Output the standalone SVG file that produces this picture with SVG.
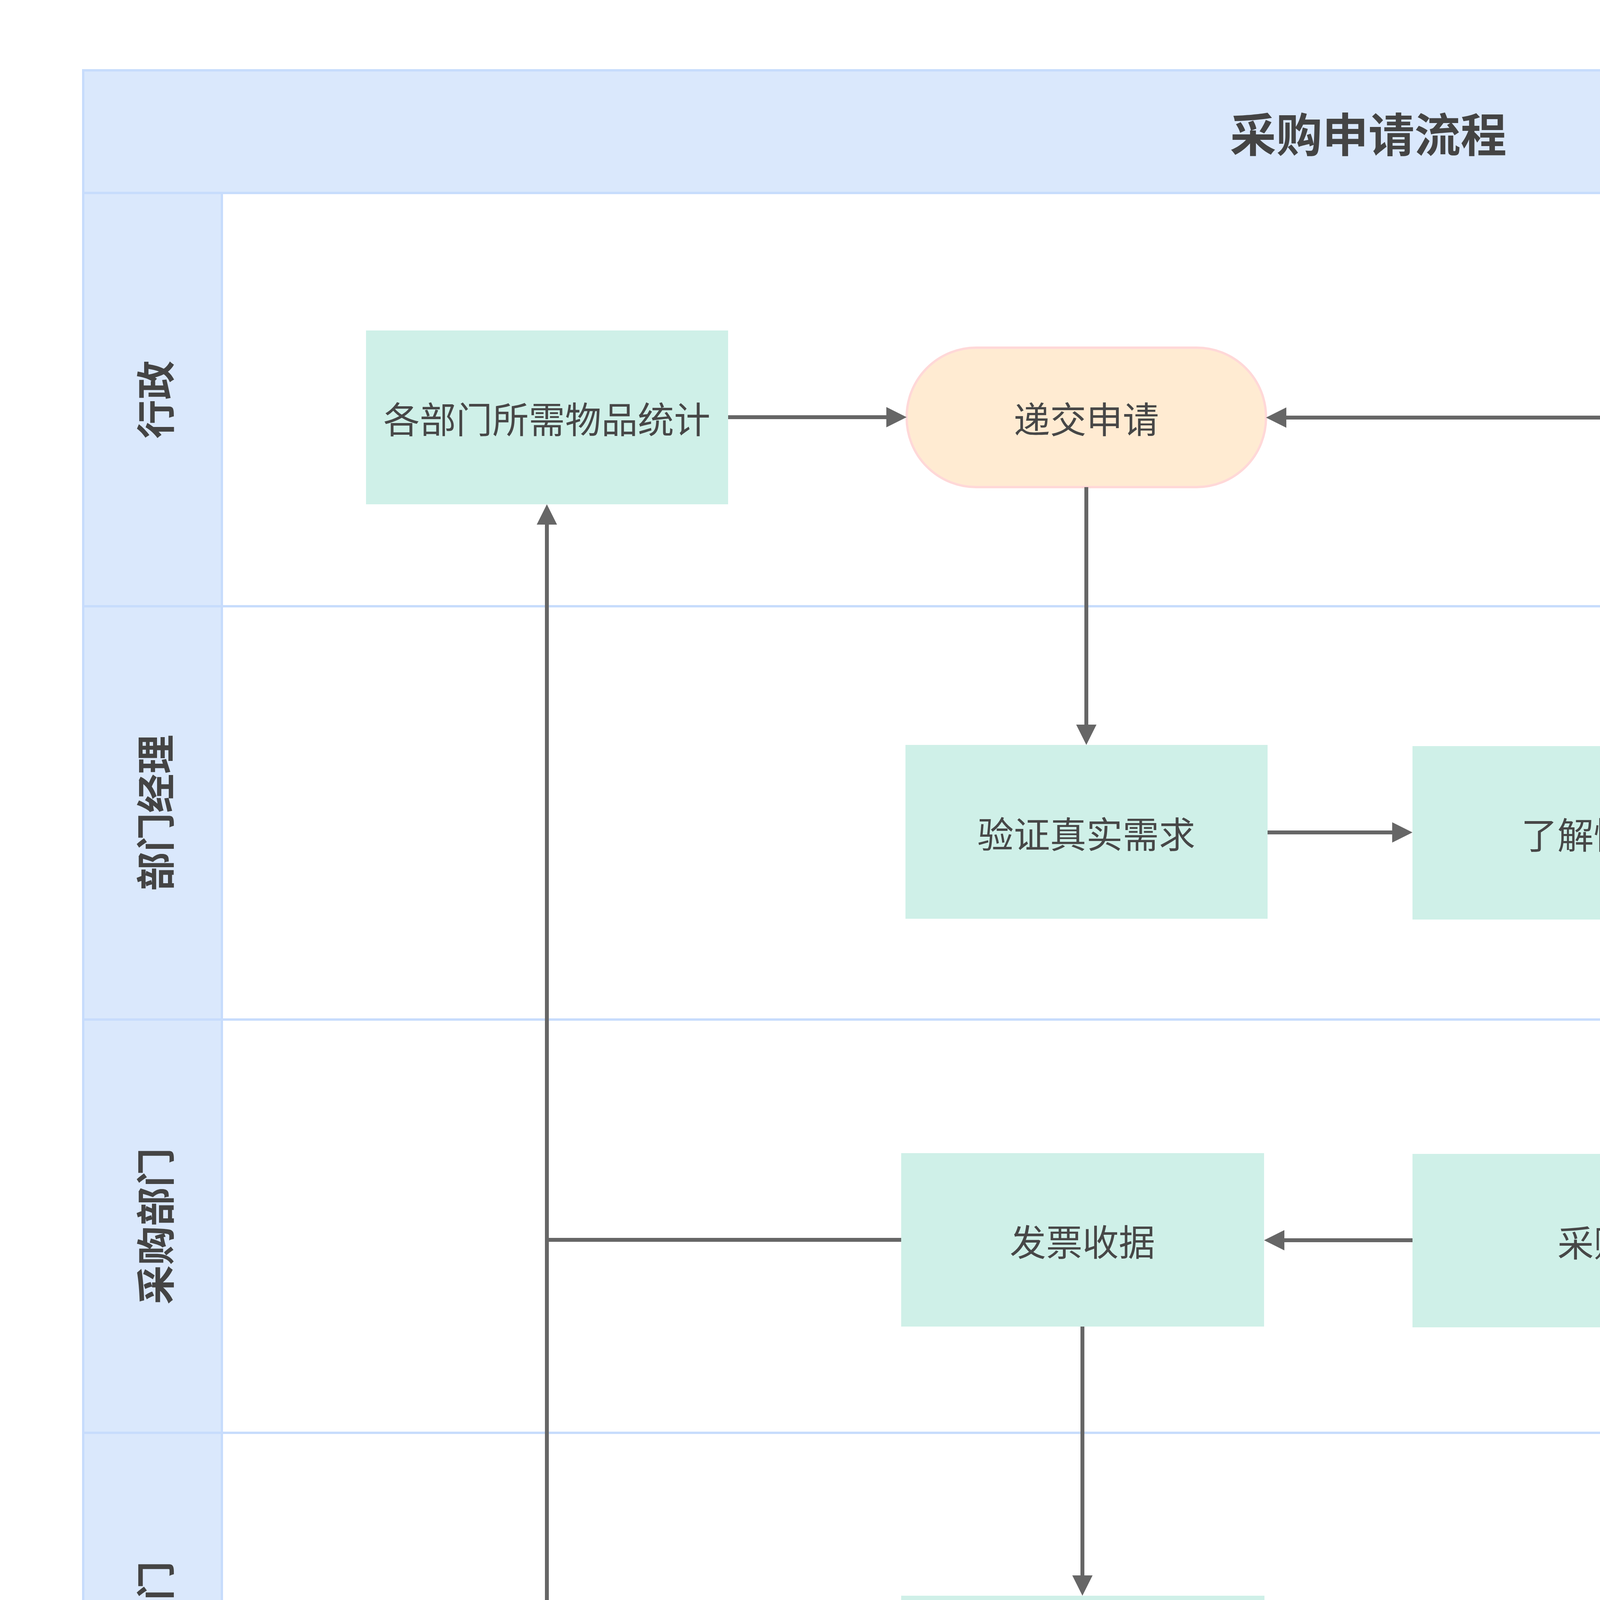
<svg xmlns="http://www.w3.org/2000/svg" width="7019" height="4963" viewBox="0 0 7019 4963">
<style>
  text { font-family: "Noto Sans CJK SC", "Noto Sans", sans-serif; text-anchor: middle; dominant-baseline: central; }
  .band { fill: #dae8fc; stroke: #c7dcfc; stroke-width: 6; }
  .lanebody { fill: #ffffff; stroke: #c7dcfc; stroke-width: 6; }
  .title { font-size: 118px; font-weight: bold; fill: #444444; }
  .lanelbl { font-size: 100px; font-weight: bold; fill: #444444; }
  .proc { fill: #cff0e8; stroke: none; }
  .term { fill: #ffebd2; stroke: #ffd8d8; stroke-width: 6; }
  .dec { fill: #cff0e8; stroke: #ccd6ff; stroke-width: 6; }
  .doc { fill: #cff0e8; stroke: #ffe8cc; stroke-width: 7; }
  .lbl { font-size: 93px; fill: #474747; }
  .edge { fill: none; stroke: #666666; stroke-width: 10; }
  .elbl { font-size: 93px; fill: #3f51c6; }
  .elblbg { fill: #ffffff; }
</style>
<defs>
  <marker id="arr" markerUnits="userSpaceOnUse" viewBox="0 0 52 52" markerWidth="52" markerHeight="52" refX="0" refY="26" orient="auto">
    <path d="M0,0 L52,26 L0,52 Z" fill="#666666"/>
  </marker>
</defs>
<rect width="7019" height="4963" fill="#ffffff"/>

<g id="pool">
  <rect class="band" x="213" y="180" width="6581" height="314"/>
  <text class="title" x="3503" y="337">采购申请流程</text>
  <g id="lane-xingzheng">
    <rect class="lanebody" x="213" y="494" width="6581" height="1058"/>
    <rect class="band" x="213" y="494" width="355" height="1058"/>
    <text class="lanelbl" transform="translate(392,1023) rotate(-90)">行政</text>
  </g>
  <g id="lane-bumenjingli">
    <rect class="lanebody" x="213" y="1552" width="6581" height="1058"/>
    <rect class="band" x="213" y="1552" width="355" height="1058"/>
    <text class="lanelbl" transform="translate(392,2081) rotate(-90)">部门经理</text>
  </g>
  <g id="lane-caigoubumen">
    <rect class="lanebody" x="213" y="2610" width="6581" height="1058"/>
    <rect class="band" x="213" y="2610" width="355" height="1058"/>
    <text class="lanelbl" transform="translate(392,3139) rotate(-90)">采购部门</text>
  </g>
  <g id="lane-caiwubumen">
    <rect class="lanebody" x="213" y="3668" width="6581" height="1058"/>
    <rect class="band" x="213" y="3668" width="355" height="1058"/>
    <text class="lanelbl" transform="translate(392,4197) rotate(-90)">财务部门</text>
  </g>
</g>

<g id="n-tongji">
  <rect class="proc" x="937" y="846" width="927" height="445"/>
  <text class="lbl" x="1400" y="1068">各部门所需物品统计</text>
</g>
<g id="n-dijiao">
  <rect class="term" x="2321" y="890" width="920" height="357" rx="178" ry="178"/>
  <text class="lbl" x="2781" y="1068">递交申请</text>
</g>
<g id="n-yanzheng">
  <rect class="proc" x="2318" y="1907" width="927" height="445"/>
  <text class="lbl" x="2781" y="2130">验证真实需求</text>
</g>
<g id="n-liaojie">
  <rect class="proc" x="3616" y="1910" width="929" height="444"/>
  <text class="lbl" x="4080" y="2132">了解情况</text>
</g>
<g id="n-shencha">
  <path class="dec" d="M5608,1908 L6071,2129 L5608,2350 L5146,2129 Z"/>
  <text class="lbl" x="5608" y="2129">审查</text>
</g>
<g id="n-jihua">
  <path class="doc" d="M5146,2953 H6070 V3340 Q5839,3237 5608,3340 Q5377,3443 5146,3340 Z"/>
  <text class="lbl" x="5608" y="3128">采购计划</text>
</g>
<g id="n-caigou">
  <rect class="proc" x="3616" y="2954" width="929" height="444"/>
  <text class="lbl" x="4080" y="3176">采购</text>
</g>
<g id="n-fapiao">
  <rect class="proc" x="2307" y="2952" width="929" height="444"/>
  <text class="lbl" x="2771" y="3174">发票收据</text>
</g>
<g id="n-baoxiao">
  <rect class="proc" x="2307" y="4085" width="930" height="444"/>
  <text class="lbl" x="2772" y="4307">报销</text>
</g>
<g id="n-cundang">
  <rect class="term" x="3616" y="4126" width="925" height="361" rx="180" ry="180"/>
  <text class="lbl" x="4079" y="4306">存档</text>
</g>

<g id="connectors">
  <path class="edge" marker-end="url(#arr)" d="M1864,1068 H2269"/>
  <path class="edge" marker-end="url(#arr)" d="M2781,1247 V1855"/>
  <path class="edge" marker-end="url(#arr)" d="M3245,2131 H3564"/>
  <path class="edge" marker-end="url(#arr)" d="M4545,2131 H5094"/>
  <path class="edge" marker-end="url(#arr)" d="M5608,1908 V1069 H3293"/>
  <path class="edge" marker-end="url(#arr)" d="M5608,2350 V2901"/>
  <path class="edge" marker-end="url(#arr)" d="M5146,3175 H4597"/>
  <path class="edge" marker-end="url(#arr)" d="M3616,3175 H3288"/>
  <path class="edge" marker-end="url(#arr)" d="M2307,3174 H1400 V1343"/>
  <path class="edge" marker-end="url(#arr)" d="M2771,3396 V4033"/>
  <path class="edge" marker-end="url(#arr)" d="M3237,4307 H3564"/>
  <path class="edge" d="M2307,4307 H1400 V3174"/>
  <g id="label-fou">
    <rect class="elblbg" x="5560" y="1609" width="96" height="125"/>
    <text class="elbl" x="5608" y="1676">否</text>
  </g>
  <g id="label-shi">
    <rect class="elblbg" x="5560" y="2483" width="96" height="130"/>
    <text class="elbl" x="5608" y="2552">是</text>
  </g>
</g>
</svg>
